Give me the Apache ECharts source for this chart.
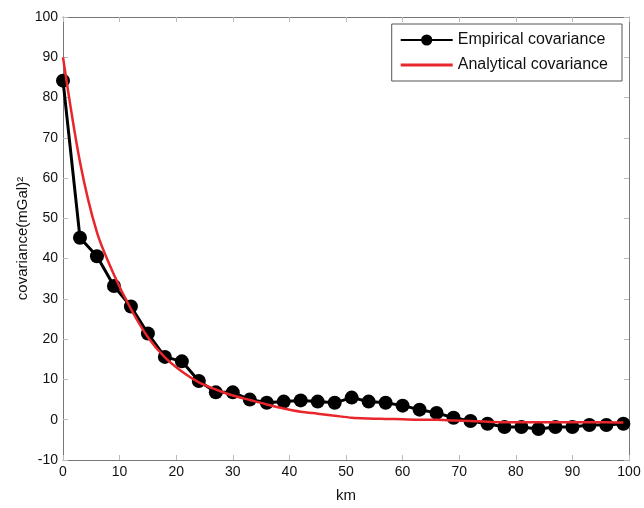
<!DOCTYPE html>
<html>
<head>
<meta charset="utf-8">
<script src="https://cdn.jsdelivr.net/npm/echarts@6/dist/echarts.min.js"></script>
<style>
  html, body { margin: 0; padding: 0; background: #fff; }
  #chart { width: 644px; height: 508px; }
</style>
</head>
<body>
<div id="chart"></div>
<script>
// distances (km), sampled every 3 km
const km = [0, 3, 6, 9, 12, 15, 18, 21, 24, 27, 30, 33, 36, 39, 42, 45, 48,
  51, 54, 57, 60, 63, 66, 69, 72, 75, 78, 81, 84, 87, 90, 93, 96, 99];

const empirical = [84.2, 45.2, 40.6, 33.2, 28.1, 21.4, 15.6, 14.5, 9.6, 6.8, 6.8,
  5.0, 4.2, 4.5, 4.8, 4.5, 4.2, 5.5, 4.5, 4.2, 3.5, 2.5, 1.7, 0.5, -0.3,
  -1.0, -1.8, -1.8, -2.3, -1.8, -1.8, -1.3, -1.3, -1.0];

const analytical = [90, 64, 46.5, 36, 27.5, 20.5, 15.5, 12, 9.3, 7.5, 6, 4.9,
  3.8, 2.8, 2.0, 1.5, 1.0, 0.5, 0.3, 0.2, 0.1, 0, 0, -0.2, -0.3, -0.5, -0.6,
  -0.6, -0.6, -0.6, -0.6, -0.6, -0.6, -0.7];

const font = "Liberation Sans, Arial, Helvetica, sans-serif";
const axisGray = "#777";

const chart = echarts.init(document.getElementById("chart"));

const baseAxis = {
  type: "value",
  axisLine: { show: true, onZero: false, lineStyle: { color: axisGray, width: 1 } },
  axisTick: { show: true, inside: true, length: 5, lineStyle: { color: "#bbb" } },
  splitLine: { show: false },
};

chart.setOption({
  animation: false,
  backgroundColor: "#fff",
  grid: { left: 63, right: 15, top: 17, bottom: 46, containLabel: false },
  legend: {
    right: 22,
    top: 24,
    orient: "vertical",
    backgroundColor: "#fff",
    borderColor: "#555",
    borderWidth: 1,
    borderRadius: 0,
    padding: [8, 14, 8, 8],
    itemGap: 9,
    itemWidth: 52,
    itemHeight: 14,
    textStyle: { fontFamily: font, fontSize: 16, color: "#111" },
    data: [
      { name: "Empirical covariance" },
      { name: "Analytical covariance", icon: "path://M0,0H52V3H0Z" },
    ],
  },
  xAxis: [
    Object.assign({}, baseAxis, {
      min: 0, max: 100, interval: 10,
      name: "km",
      nameLocation: "middle",
      nameGap: 28,
      nameTextStyle: { fontFamily: font, fontSize: 15, color: "#111" },
      axisLabel: { fontFamily: font, fontSize: 14, color: "#111", margin: 5 },
    }),
    Object.assign({}, baseAxis, {
      min: 0, max: 100, interval: 10, position: "top",
      axisLabel: { show: false },
    }),
  ],
  yAxis: [
    Object.assign({}, baseAxis, {
      min: -10, max: 100, interval: 10,
      name: "covariance(mGal)²",
      nameLocation: "middle",
      nameGap: 33,
      nameMoveOverlap: false,
      nameTextStyle: { fontFamily: font, fontSize: 15, color: "#111" },
      axisLabel: { fontFamily: font, fontSize: 14, color: "#111", margin: 5 },
    }),
    Object.assign({}, baseAxis, {
      min: -10, max: 100, interval: 10, position: "right",
      axisLabel: { show: false },
    }),
  ],
  series: [
    {
      name: "Empirical covariance",
      type: "line",
      data: km.map((x, i) => [x, empirical[i]]),
      symbol: "circle",
      symbolSize: 14,
      z: 3,
      itemStyle: { color: "#000" },
      lineStyle: { color: "#000", width: 3 },
    },
    {
      name: "Analytical covariance",
      type: "line",
      data: km.map((x, i) => [x, analytical[i]]),
      symbol: "none",
      smooth: 0.3,
      z: 4,
      itemStyle: { color: "#e8262b" },
      lineStyle: { color: "#e8262b", width: 2.5 },
    },
  ],
});
</script>
</body>
</html>
